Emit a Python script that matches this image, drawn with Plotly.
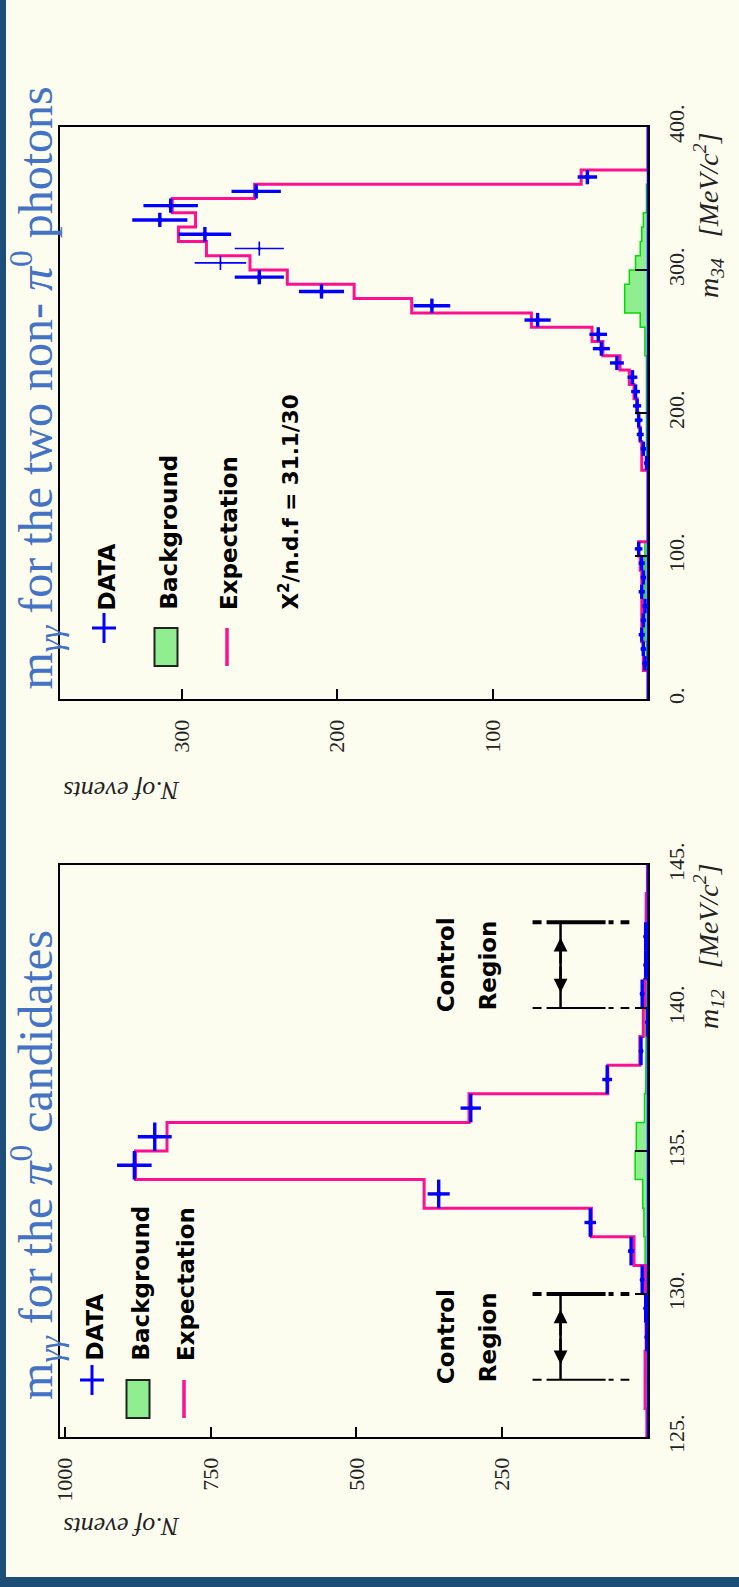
import math
import plotly.graph_objects as go

W, H = 739, 1587

# ---------------- lower panel: m12 (pi0 candidates) ----------------
m12_width = 1.0
m12_centers = [125.5, 126.5, 127.5, 128.5, 129.5, 130.5, 131.5, 132.5, 133.5, 134.5,
               135.5, 136.5, 137.5, 138.5, 139.5, 140.5, 141.5, 142.5, 143.5, 144.5]
m12_data = [0, 0, 0, 2, 4, 10, 29, 99, 359, 881, 846, 304, 70, 12, 1, 10, 4, 4, 0, 0]
m12_expect = [2, 5, 5, 3, 4, 5, 24, 97, 384, 879, 825, 307, 69, 14, 8, 6, 4, 3, 3, 1]
m12_bkg = [1, 1, 2, 2, 3, 3, 5, 7, 9, 22, 20, 6, 4, 3, 3, 2, 2, 2, 1, 1]
m12_ticks = [125, 130, 135, 140, 145]
m12_ticktext = ["125.", "130.", "135.", "140.", "145."]
n12_ticks = [250, 500, 750, 1000]
n12_ticktext = ["250", "500", "750", "1000"]
control_regions = [(127.0, 130.0), (140.0, 143.0)]

# ---------------- upper panel: m34 (two non-pi0 photons) ----------------
m34_width = 10.0
m34_centers = [5, 15, 25, 35, 45, 55, 65, 75, 85, 95,
               105, 115, 125, 135, 145, 155, 165, 175, 185, 195,
               205, 215, 225, 235, 245, 255, 265, 275, 285, 295,
               305, 315, 325, 335, 345, 355, 365, 375, 385, 395]
m34_data = [0, 0, 2, 3, 4, 3, 2, 4, 3, 4,
            6, 0, 0, 0, 0, 0, 1, 3, 5, 6,
            7, 8, 10, 20, 30, 32, 71, 139, 210, 250,
            275, 250, 285, 314, 307, 252, 39, 0, 0, 0]
m34_expect = [0, 0, 3, 3, 4, 4, 4, 4, 4, 5,
              6, 0, 0, 0, 0, 0, 4, 4, 5, 6,
              7, 9, 12, 18, 29, 36, 75, 152, 189, 232,
              256, 284, 302, 291, 306, 253, 43, 0, 0, 0]
m34_bkg = [0, 0, 1, 1, 2, 2, 2, 2, 2, 2,
           2, 0, 0, 0, 0, 0, 1, 1, 1, 1,
           1, 1, 1, 1, 2, 2, 5, 15, 15, 12,
           8, 5, 4, 3, 1, 1, 0, 0, 0, 0]
m34_ticks = [0, 100, 200, 300, 400]
m34_ticktext = ["0.", "100.", "200.", "300.", "400."]
n34_ticks = [100, 200, 300]
n34_ticktext = ["100", "200", "300"]
chi2_text = "X<sup>2</sup>/n.d.f = 31.1/30"

# ---------------- style ----------------
CREAM = "#fdfdef"
FRAME = "#1c4e78"
TITLE_BLUE = "#4472c4"
BLUE = "#0000ff"
PINK = "#ff1090"
GREEN_FILL = "#90ee90"
GREEN_LINE = "#00dd00"
SERIF = "Liberation Serif"
SANS = "DejaVu Sans"
THIN_BINS_34 = {305, 315}


def px(x):
    return x / W


def py(y):
    return 1 - y / H


def step_path(centers, values, width):
    xs, ys = [], []
    for c, v in zip(centers, values):
        ys += [c - width / 2, c + width / 2]
        xs += [v, v]
    return [0] + xs + [0], [centers[0] - width / 2] + ys + [centers[-1] + width / 2]


fig = go.Figure()


def add_panel(centers, data, expect, bkg, width, xa, ya, thin_bins=()):
    bx, by = step_path(centers, bkg, width)
    fig.add_trace(go.Scatter(x=bx, y=by, mode="lines", fill="tozerox",
                             fillcolor=GREEN_FILL, line=dict(color=GREEN_LINE, width=1.5),
                             xaxis=xa, yaxis=ya, showlegend=False, hoverinfo="skip"))
    ex, ey = step_path(centers, expect, width)
    fig.add_trace(go.Scatter(x=ex, y=ey, mode="lines", line=dict(color=PINK, width=3),
                             xaxis=xa, yaxis=ya, showlegend=False, hoverinfo="skip"))
    for thin in (False, True):
        sel = [(c, n) for c, n in zip(centers, data)
               if n > 0 and ((c in thin_bins) == thin)]
        if not sel:
            continue
        cs = [s[0] for s in sel]
        ns = [s[1] for s in sel]
        fig.add_trace(go.Scatter(
            x=ns, y=cs, mode="markers",
            marker=dict(color=BLUE, size=3 if thin else 5),
            error_x=dict(type="data", array=[math.sqrt(n) for n in ns], color=BLUE,
                         thickness=1.6 if thin else 3.4, width=0),
            error_y=dict(type="data", array=[width / 2] * len(ns), color=BLUE,
                         thickness=1.6 if thin else 3.4, width=0),
            xaxis=xa, yaxis=ya, showlegend=False))


add_panel(m12_centers, m12_data, m12_expect, m12_bkg, m12_width, "x", "y")
add_panel(m34_centers, m34_data, m34_expect, m34_bkg, m34_width, "x2", "y2", THIN_BINS_34)

xdom = [px(60.3), px(648)]
tickfont = dict(family=SERIF, size=22, color="#222222")
common_x = dict(showgrid=False, zeroline=False, showline=True, linecolor="black",
                linewidth=2, mirror=True, ticks="inside", ticklen=10, tickwidth=1.5,
                tickcolor="black", tickangle=-90, tickfont=tickfont, side="bottom",
                ticklabelstandoff=10, fixedrange=True, automargin=False)
common_y = dict(showgrid=False, zeroline=False, showline=True, linecolor="black",
                linewidth=2, mirror=True, ticks="inside", ticklen=13, tickwidth=1.5,
                tickcolor="black", tickangle=-90, tickfont=tickfont, side="right",
                ticklabelstandoff=8, fixedrange=True, automargin=False)

fig.update_layout(
    width=W, height=H, autosize=False, margin=dict(l=0, r=0, t=0, b=0, pad=0),
    paper_bgcolor=CREAM, plot_bgcolor=CREAM, showlegend=False,
    xaxis=dict(domain=xdom, range=[1008, 0], anchor="y", tickvals=n12_ticks,
               ticktext=n12_ticktext, **common_x),
    yaxis=dict(domain=[py(1437), py(865)], range=[125, 145], anchor="x",
               tickvals=m12_ticks, ticktext=m12_ticktext, **common_y),
    xaxis2=dict(domain=xdom, range=[378, 0], anchor="y2", tickvals=n34_ticks,
                ticktext=n34_ticktext, **common_x),
    yaxis2=dict(domain=[py(699), py(127)], range=[0, 400], anchor="x2",
                tickvals=m34_ticks, ticktext=m34_ticktext, **common_y),
)

shapes = []
annotations = []

# dark frame strips
shapes.append(dict(type="rect", xref="paper", yref="paper", x0=0, x1=px(6), y0=0, y1=1,
                   fillcolor=FRAME, line=dict(width=0), layer="above"))
shapes.append(dict(type="rect", xref="paper", yref="paper", x0=0, x1=1, y0=0, y1=py(1577),
                   fillcolor=FRAME, line=dict(width=0), layer="above"))

# blue zero-count line along the mass axis
for xa, ya in (("x", "y"), ("x2", "y2")):
    shapes.append(dict(type="line", xref=xa, yref=ya + " domain", x0=0, x1=0, y0=0, y1=1,
                       line=dict(color=BLUE, width=2.5), layer="above"))

# control regions
ctrl_n_from, ctrl_n_to, arrow_n = 198, 32, 150
dash = "9px,5px,59px,3px,5px,7px,10px,60px"
for lo, hi in control_regions:
    shapes.append(dict(type="line", xref="x", yref="y", x0=ctrl_n_from, x1=ctrl_n_to,
                       y0=hi, y1=hi, line=dict(color="black", width=4, dash=dash)))
    shapes.append(dict(type="line", xref="x", yref="y", x0=ctrl_n_from, x1=ctrl_n_to,
                       y0=lo, y1=lo, line=dict(color="black", width=2, dash=dash)))
    shapes.append(dict(type="line", xref="x", yref="y", x0=arrow_n, x1=arrow_n,
                       y0=lo, y1=hi, line=dict(color="black", width=2.5)))
    mid = (lo + hi) / 2
    inset = 0.18 * (hi - lo)
    for head in (hi - inset, lo + inset):
        annotations.append(dict(xref="x", yref="y", axref="x", ayref="y", x=arrow_n, y=head,
                                ax=arrow_n, ay=mid, text="", showarrow=True, arrowhead=2,
                                arrowsize=1.1, arrowwidth=2.5, arrowcolor="black"))
    annotations.append(dict(xref="x", yref="y", x=346, y=mid, text="<b>Control</b>",
                            textangle=-90, showarrow=False,
                            font=dict(family=SANS, size=23, color="black")))
    annotations.append(dict(xref="x", yref="y", x=274, y=mid, text="<b>Region</b>",
                            textangle=-90, showarrow=False,
                            font=dict(family=SANS, size=23, color="black")))


def legend(x_data, x_bkg, x_exp, y_sym, y_text, extra=None):
    # DATA cross
    shapes.append(dict(type="line", xref="paper", yref="paper", x0=px(x_data - 12),
                       x1=px(x_data + 12), y0=py(y_sym + 15), y1=py(y_sym + 15),
                       line=dict(color=BLUE, width=3)))
    shapes.append(dict(type="line", xref="paper", yref="paper", x0=px(x_data), x1=px(x_data),
                       y0=py(y_sym), y1=py(y_sym + 30), line=dict(color=BLUE, width=3)))
    # background box
    shapes.append(dict(type="rect", xref="paper", yref="paper", x0=px(x_bkg - 11.5),
                       x1=px(x_bkg + 11.5), y0=py(y_sym + 53), y1=py(y_sym + 15),
                       fillcolor=GREEN_FILL, line=dict(color="#222222", width=2)))
    # expectation line
    shapes.append(dict(type="line", xref="paper", yref="paper", x0=px(x_exp), x1=px(x_exp),
                       y0=py(y_sym + 15), y1=py(y_sym + 53), line=dict(color=PINK, width=3.5)))
    for x, t in ((x_data, "DATA"), (x_bkg, "Background"), (x_exp, "Expectation")):
        annotations.append(dict(xref="paper", yref="paper", x=px(x + 2), y=py(y_text),
                                xanchor="center", yanchor="bottom", text="<b>" + t + "</b>",
                                textangle=-90, showarrow=False,
                                font=dict(family=SANS, size=23, color="black")))
    if extra:
        annotations.append(dict(xref="paper", yref="paper", x=px(extra[0] + 2), y=py(y_text),
                                xanchor="center", yanchor="bottom", text="<b>" + extra[1] + "</b>",
                                textangle=-90, showarrow=False,
                                font=dict(family=SANS, size=21.5, color="black")))


legend(92, 138, 184, 1365, 1363)
legend(104, 166, 227, 613, 612, extra=(286, chi2_text))

# panel titles
annotations.append(dict(xref="paper", yref="paper", x=px(35), y=py(1402), xanchor="center",
                        yanchor="bottom", textangle=-90, showarrow=False,
                        text="m<sub><i>γγ</i></sub> for the <i>π</i><sup>0</sup> candidates",
                        font=dict(family=SERIF, size=48, color=TITLE_BLUE)))
annotations.append(dict(xref="paper", yref="paper", x=px(35), y=py(692), xanchor="center",
                        yanchor="bottom", textangle=-90, showarrow=False,
                        text="m<sub><i>γγ</i></sub> for the two non- <i>π</i><sup>0</sup> photons",
                        font=dict(family=SERIF, size=48, color=TITLE_BLUE)))

# axis titles
for ytop, lab in ((861, "<i>m</i><sub><i>12</i></sub>&nbsp;&nbsp;&nbsp;<i>[MeV/c<sup>2</sup>]</i>"),
                  (130, "<i>m</i><sub><i>34</i></sub>&nbsp;&nbsp;&nbsp;<i>[MeV/c<sup>2</sup>]</i>")):
    annotations.append(dict(xref="paper", yref="paper", x=px(709), y=py(ytop),
                            xanchor="center", yanchor="top", textangle=-90, showarrow=False,
                            text=lab, font=dict(family=SERIF, size=28, color="#222222")))
for yc in (1527, 790):
    annotations.append(dict(xref="paper", yref="paper", x=px(122), y=py(yc),
                            xanchor="center", yanchor="middle", textangle=180, showarrow=False,
                            text="<i>N.of events</i>",
                            font=dict(family=SERIF, size=26, color="#222222")))

fig.update_layout(shapes=shapes, annotations=annotations)
fig.write_html(
    "out.html",
    config={"displayModeBar": False, "responsive": False},
    post_script="document.body.style.margin='0px';document.body.style.padding='0px';"
                "document.body.style.overflow='hidden';document.body.style.background='#fdfdef';",
)
